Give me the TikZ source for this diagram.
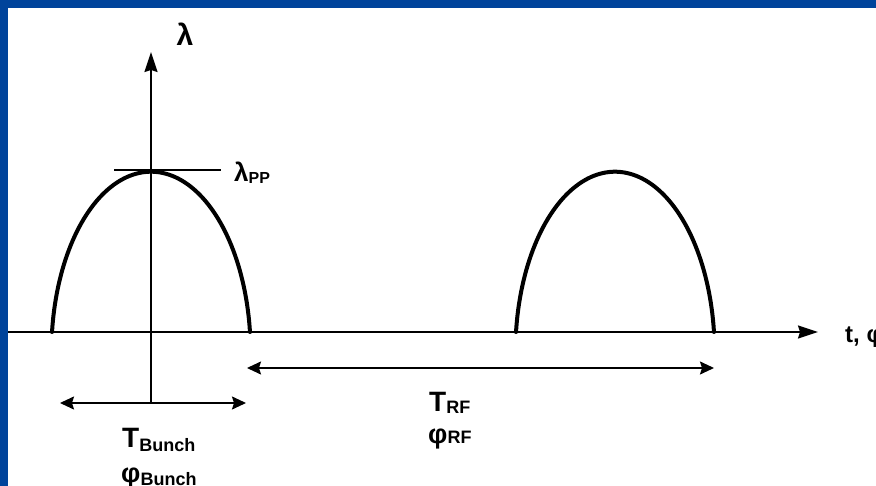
\documentclass[tikz,border=0pt]{standalone}
\usepackage{fontspec}
\setmainfont{Liberation Sans}
\usetikzlibrary{arrows.meta}
\definecolor{frameblue}{RGB}{0,68,155}
\newcommand\lblbig{\fontsize{28}{30}\selectfont}
\newcommand\lblsub{\fontsize{18}{20}\selectfont}
\newcommand\lblphi{\fontsize{27}{29}\selectfont}
\begin{document}
\begin{tikzpicture}[x=1pt,y=-1pt,
  axis/.style={line width=1.5pt, -{Stealth[length=20pt,width=13pt,inset=2pt]}},
  span/.style={line width=1.5pt, {Stealth[length=14pt,width=13pt,inset=2pt]}-{Stealth[length=14pt,width=13pt,inset=2pt]}},
  bunch/.style={line width=4pt, line cap=round},
  thin/.style={line width=1.5pt},
  lbl/.style={inner sep=0pt, font=\bfseries}]
\useasboundingbox (0,0) rectangle (876,486);
\clip (0,0) rectangle (876,486);
\fill[frameblue] (0,0) rectangle (876,8);
\fill[frameblue] (0,0) rectangle (8,486);
% axes
\coordinate (xs) at (8,332);
\coordinate (xe) at (818,332);
\coordinate (ys) at (151,403);
\coordinate (ye) at (151,52);
\draw[axis] (xs) -- (xe);
\draw[axis] (ys) -- (ye);
% peak marker
\coordinate (pl) at (114,170);
\coordinate (pr) at (221,170);
\draw[thin] (pl) -- (pr);
% bunches
\draw[bunch] plot[domain=6.37:173.63, samples=90] ({151+99.6*cos(\x)},{352-180.3*sin(\x)});
\draw[bunch] plot[domain=6.37:173.63, samples=90] ({615+99.6*cos(\x)},{352-180.3*sin(\x)});
% spans
\coordinate (b1) at (60,403);
\coordinate (b2) at (246,403);
\draw[span] (b1) -- (b2);
\coordinate (r1) at (247,368);
\coordinate (r2) at (714,368);
\draw[span] (r1) -- (r2);
% labels
\node[lbl, anchor=base, font=\bfseries\fontsize{30}{32}\selectfont] (lam) at (185,46) {λ};
\node[lbl, anchor=base west] (lpp) at (234,182) {\fontsize{26}{28}\selectfont λ\fontsize{16}{18}\selectfont\raisebox{-2pt}{PP}};
\node[lbl, anchor=base west] (tax) at (845,343) {\fontsize{24}{26}\selectfont t, φ};
\node[lbl, anchor=base west] (tb) at (122,447) {\lblbig T\lblsub\raisebox{-4pt}{Bunch}};
\node[lbl, anchor=base west] (pb) at (121,482) {\lblphi φ\lblsub\raisebox{-3pt}{Bunch}};
\node[lbl, anchor=base west] (trf) at (429,411) {\lblbig T\lblsub\raisebox{-2pt}{RF}};
\node[lbl, anchor=base west] (prf) at (428,443) {\lblphi φ\lblsub RF};
\end{tikzpicture}
\end{document}
